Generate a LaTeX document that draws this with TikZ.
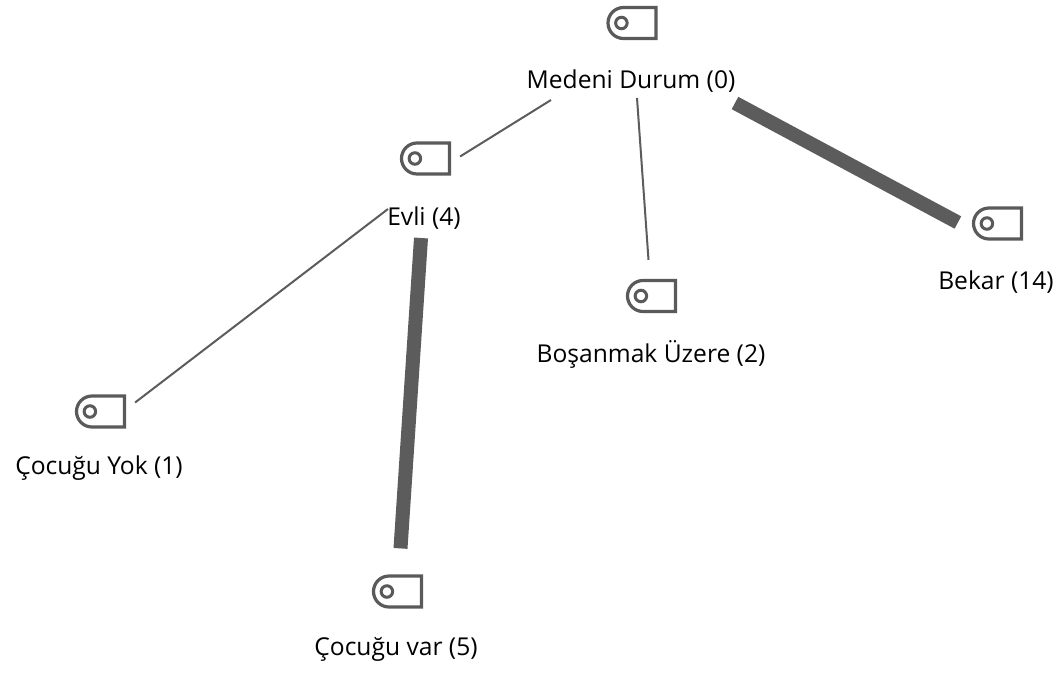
\documentclass[tikz,border=0pt]{standalone}
\usepackage{fontspec}
\setmainfont{Open Sans}
\usetikzlibrary{
    shapes.misc,
    positioning,
    calc,
}

\begin{document}
\begin{tikzpicture}[
    x=1pt, y=-1pt,
    node distance= 24pt,
    tag/.style={draw=tagcolor, line width=3.2pt, fill=white, rounded rectangle,
                rounded rectangle east arc=none, inner sep=0pt,
                minimum width=48pt, minimum height=31pt},
    hole/.style={draw=tagcolor, line width=3pt, circle, inner sep=0pt, minimum size=11.5pt},
    caption/.style={text=black, inner sep=0pt, font=\fontsize{24.6}{28}\selectfont},
    thinlink/.style={draw=linkcolor, line width=2pt},
    thicklink/.style={draw=linkcolor, line width=14pt},
]
\definecolor{tagcolor}{HTML}{5A5A5A}
\definecolor{linkcolor}{HTML}{5C5C5C}

\useasboundingbox (0,0) rectangle (1060,672);

\node[tag] at (632,23) (medeni) {};
\node[hole] at ([xshift=15pt]medeni.west) (medeniHole) {};
\node[caption] at (631,81) (medeniText) {Medeni Durum (0)};

\node[tag] at (425.5,158.5) (evli) {};
\node[hole] at ([xshift=15pt]evli.west) (evliHole) {};
\node[caption] at (424,218) (evliText) {Evli (4)};

\node[tag] at (651.5,296) (bosanmak) {};
\node[hole] at ([xshift=15pt]bosanmak.west) (bosanmakHole) {};
\node[caption] at (651,354) (bosanmakText) {Boşanmak Üzere (2)};

\node[tag] at (997.5,223.5) (bekar) {};
\node[hole] at ([xshift=15pt]bekar.west) (bekarHole) {};
\node[caption] at (996,282) (bekarText) {Bekar (14)};

\node[tag] at (100.5,411.5) (yok) {};
\node[hole] at ([xshift=15pt]yok.west) (yokHole) {};
\node[caption] at (99,468) (yokText) {Çocuğu Yok (1)};

\node[tag] at (397.5,591.5) (var) {};
\node[hole] at ([xshift=15pt]var.west) (varHole) {};
\node[caption] at (396,649) (varText) {Çocuğu var (5)};

\draw[thinlink] ($(medeniText.center)+(-80,19)$) -- ($(evli.east)+(9,-2)$);
\draw[thinlink] ($(medeniText.center)+(6,17)$) -- ($(bosanmak.north)+(-3,-19)$);
\draw[thicklink] ($(medeniText.center)+(104,22)$) -- ($(bekar.west)+(-14,-1)$);
\draw[thinlink] ($(evliText.center)+(-36,-9)$) -- ($(yok.east)+(9,-9)$);
\draw[thicklink] ($(evliText.center)+(-3,20)$) -- ($(var.north)+(3,-26)$);

\end{tikzpicture}
\end{document}
